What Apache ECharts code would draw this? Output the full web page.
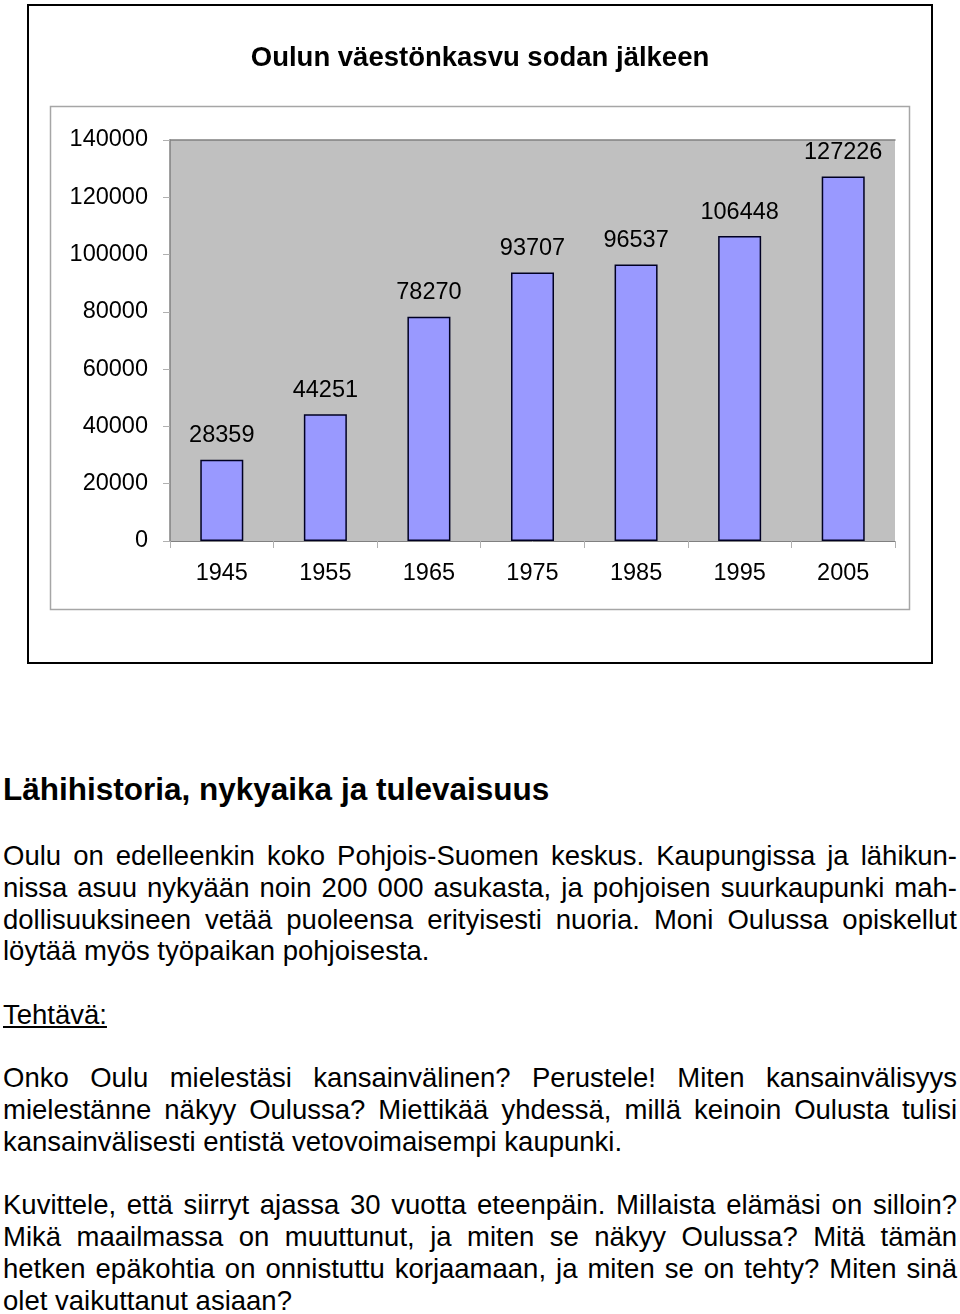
<!DOCTYPE html>
<html>
<head>
<meta charset="utf-8">
<script src="https://cdn.jsdelivr.net/npm/echarts@6/dist/echarts.min.js"></script>
<style>
  html, body { margin: 0; padding: 0; background: #fff; }
  body { width: 960px; height: 1314px; position: relative; overflow: hidden; font-family: "Liberation Sans", Arial, sans-serif; color: #000; }
  #chart { position: absolute; left: 0; top: 0; width: 960px; height: 680px; }
  .heading { position: absolute; left: 3px; top: 771px; font-size: 31.5px; font-weight: bold; line-height: 36px; white-space: nowrap; }
  .body { position: absolute; left: 3px; top: 840px; width: 954px; font-size: 27.5px; line-height: 31.75px; }
  .j { text-align: justify; text-align-last: justify; }
  .l { text-align: left; }
  .u { text-decoration: underline; }
  .blank { height: 31.75px; }
</style>
</head>
<body>
<div id="chart"></div>
<div class="heading">Lähihistoria, nykyaika ja tulevaisuus</div>
<div class="body">
  <div class="j">Oulu on edelleenkin koko Pohjois-Suomen keskus. Kaupungissa ja lähikun-</div>
  <div class="j">nissa asuu nykyään noin 200 000 asukasta, ja pohjoisen suurkaupunki mah-</div>
  <div class="j">dollisuuksineen vetää puoleensa erityisesti nuoria. Moni Oulussa opiskellut</div>
  <div class="l">löytää myös työpaikan pohjoisesta.</div>
  <div class="blank"></div>
  <div class="l"><span class="u">Tehtävä:</span></div>
  <div class="blank"></div>
  <div class="j">Onko Oulu mielestäsi kansainvälinen? Perustele! Miten kansainvälisyys</div>
  <div class="j">mielestänne näkyy Oulussa? Miettikää yhdessä, millä keinoin Oulusta tulisi</div>
  <div class="l">kansainvälisesti entistä vetovoimaisempi kaupunki.</div>
  <div class="blank"></div>
  <div class="j">Kuvittele, että siirryt ajassa 30 vuotta eteenpäin. Millaista elämäsi on silloin?</div>
  <div class="j">Mikä maailmassa on muuttunut, ja miten se näkyy Oulussa? Mitä tämän</div>
  <div class="j">hetken epäkohtia on onnistuttu korjaamaan, ja miten se on tehty? Miten sinä</div>
  <div class="l">olet vaikuttanut asiaan?</div>
</div>
<script>
const chartTitle = 'Oulun väestönkasvu sodan jälkeen';
const years = ['1945', '1955', '1965', '1975', '1985', '1995', '2005'];
const population = [28359, 44251, 78270, 93707, 96537, 106448, 127226];
const yMin = 0;
const yMax = 140000;
const yStep = 20000;

const FONT = '"Liberation Sans", Arial, sans-serif';
const chart = echarts.init(document.getElementById('chart'), null, { renderer: 'canvas' });
chart.setOption({
  animation: false,
  backgroundColor: 'transparent',
  title: {
    text: chartTitle,
    left: 'center',
    top: 38,
    textStyle: { fontFamily: FONT, fontSize: 27.5, fontWeight: 'bold', color: '#000', lineHeight: 30 }
  },
  graphic: [
    { type: 'rect', shape: { x: 28, y: 5, width: 904, height: 658 }, style: { fill: 'none', stroke: '#000', lineWidth: 2 }, silent: true },
    { type: 'rect', shape: { x: 50.5, y: 106.5, width: 859, height: 503 }, style: { fill: 'none', stroke: '#A6A6A6', lineWidth: 1.5 }, silent: true }
  ],
  grid: {
    left: 170, top: 140, right: 65, bottom: 139,
    show: true, backgroundColor: '#C0C0C0', borderWidth: 0
  },
  xAxis: [
    {
      type: 'category',
      data: years,
      boundaryGap: true,
      axisLine: { show: true, lineStyle: { color: '#808080', width: 1 } },
      axisTick: { show: true, length: 7, lineStyle: { color: '#B0B0B0' } },
      axisLabel: { margin: 21, fontFamily: FONT, fontSize: 23.5, color: '#000' },
      splitLine: { show: false }
    },
    {
      type: 'category',
      data: years,
      position: 'top',
      axisLine: { show: true, lineStyle: { color: '#808080', width: 1.5 } },
      axisTick: { show: false },
      axisLabel: { show: false },
      splitLine: { show: false }
    }
  ],
  yAxis: {
    type: 'value',
    min: yMin, max: yMax, interval: yStep,
    axisLine: { show: true, lineStyle: { color: '#808080', width: 1.5 } },
    axisTick: { show: true, length: 7, lineStyle: { color: '#B0B0B0' } },
    axisLabel: { margin: 22, fontFamily: FONT, fontSize: 23.5, color: '#000', formatter: function (v) { return String(v); } },
    splitLine: { show: false }
  },
  series: [{
    type: 'bar',
    data: population,
    barWidth: 43,
    itemStyle: { color: '#9999FF', borderColor: '#000022', borderWidth: 1.5 },
    label: { show: true, position: 'top', distance: 12, fontFamily: FONT, fontSize: 23.5, color: '#000' }
  }]
});
</script>
</body>
</html>
